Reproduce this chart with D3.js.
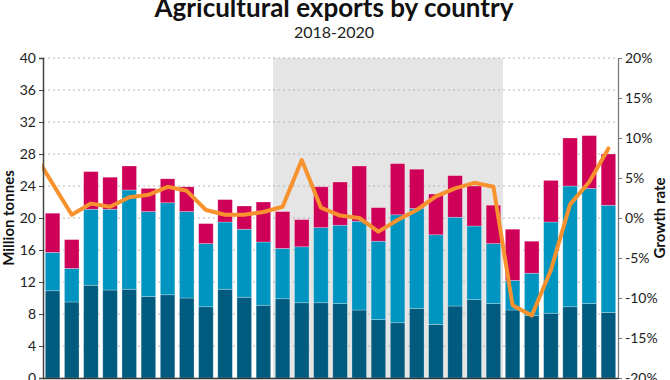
<!DOCTYPE html>
<html>
<head>
<meta charset="utf-8">
<script src="https://cdn.jsdelivr.net/npm/d3@7"></script>
<style>
  body { margin: 0; background: #fff; }
  svg { display: block; font-family: Lato, "Open Sans", sans-serif; }
</style>
</head>
<body>
<div id="plot"></div>
<script>
// Data (million tonnes per country, growth rate in %)
const months = [
  "Jan 2018","Feb 2018","Mar 2018","Apr 2018","May 2018","Jun 2018","Jul 2018","Aug 2018","Sep 2018","Oct 2018","Nov 2018","Dec 2018",
  "Jan 2019","Feb 2019","Mar 2019","Apr 2019","May 2019","Jun 2019","Jul 2019","Aug 2019","Sep 2019","Oct 2019","Nov 2019","Dec 2019",
  "Jan 2020","Feb 2020","Mar 2020","Apr 2020","May 2020","Jun 2020"
];
const countryA = [10.9,9.5,11.6,11.0,11.1,10.2,10.4,10.0,8.9,11.1,10.1,9.1,9.9,9.4,9.4,9.3,8.5,7.3,6.9,8.7,6.7,9.0,9.8,9.3,8.5,7.8,8.1,8.9,9.3,8.2];
const countryB = [4.8,4.2,9.5,10.1,12.4,10.6,11.5,10.8,7.9,8.4,8.5,7.9,6.3,7.0,9.4,9.8,11.1,9.8,13.5,12.5,11.2,11.1,9.2,7.5,3.7,5.3,11.4,15.1,14.4,13.4];
const countryC = [4.9,3.6,4.7,4.0,3.0,2.9,3.0,3.1,2.5,2.8,2.9,5.0,4.6,3.4,5.1,5.4,6.9,4.2,6.4,4.9,5.1,5.2,5.0,4.8,6.4,4.0,5.2,6.0,6.6,6.4];
// growth line starts from Dec 2017 (clipped at the axis)
const growthMonths = ["Dec 2017"].concat(months);
const growth = [8.2,4.3,0.4,1.8,1.4,2.6,2.9,3.9,3.4,1.0,0.4,0.4,0.75,1.4,7.25,1.3,0.3,0.0,-1.7,-0.25,1.0,2.7,3.7,4.4,3.9,-10.9,-12.2,-6.5,1.7,4.5,8.7];
const shadedYear = months.slice(12, 24);
const leftTicks = [0,4,8,12,16,20,24,28,32,36,40];
const rightTicks = [-20,-15,-10,-5,0,5,10,15,20];

const seriesKeys = ["a", "b", "c"];
const colors = { a: "#005b7f", b: "#0094c0", c: "#cf0057" };

// Dimensions and margins
const w = 670;
const h = 380;
const margin = { top: 58, right: 52, bottom: 2, left: 43 };
const innerWidth = w - margin.left - margin.right;
const innerHeight = h - margin.top - margin.bottom;

const svg = d3.select("div#plot")
  .append("svg")
  .attr("width", w)
  .attr("height", h);

const g = svg.append("g")
  .attr("transform", `translate(${margin.left}, ${margin.top})`);

// Scales
const xScale = d3.scaleBand()
  .domain(months)
  .range([0, innerWidth])
  .paddingInner(0.24)
  .paddingOuter(0.12);
const yScale = d3.scaleLinear().domain([0, 40]).range([innerHeight, 0]);
const yRight = d3.scaleLinear().domain([-20, 20]).range([innerHeight, 0]);

const step = xScale.step();
const half = xScale.bandwidth() / 2;
const xLine = d3.scalePoint()
  .domain(growthMonths)
  .range([xScale(months[0]) + half - step, xScale(months[months.length - 1]) + half]);

// Shaded 2019 band
const bandStart = xScale(shadedYear[0]) - xScale.paddingInner() * step / 2;
const bandEnd = xScale(shadedYear[shadedYear.length - 1]) + xScale.bandwidth() + xScale.paddingInner() * step / 2;
g.append("rect")
  .attr("x", bandStart)
  .attr("y", 0)
  .attr("width", bandEnd - bandStart)
  .attr("height", innerHeight)
  .attr("fill", "#e5e5e5");

// Gridlines
g.append("g")
  .selectAll("line")
  .data(leftTicks.filter(t => t > 0))
  .enter().append("line")
  .attr("x1", 0)
  .attr("x2", innerWidth)
  .attr("y1", d => yScale(d))
  .attr("y2", d => yScale(d))
  .attr("stroke", "#b5b5b5")
  .attr("stroke-width", 1)
  .attr("stroke-dasharray", "2,3");

// Stacked bars
const table = months.map((m, i) => ({ month: m, a: countryA[i], b: countryB[i], c: countryC[i] }));
const stacked = d3.stack().keys(seriesKeys)(table);

g.append("g")
  .selectAll("g")
  .data(stacked)
  .enter().append("g")
  .attr("fill", d => colors[d.key])
  .selectAll("rect")
  .data(d => d)
  .enter().append("rect")
  .attr("x", d => xScale(d.data.month))
  .attr("y", d => yScale(d[1]))
  .attr("width", xScale.bandwidth())
  .attr("height", d => yScale(d[0]) - yScale(d[1]))
  .attr("stroke", "#ffffff")
  .attr("stroke-opacity", 0.45)
  .attr("stroke-width", 0.6);

// Growth rate line
svg.append("defs").append("clipPath")
  .attr("id", "plot-clip")
  .append("rect")
  .attr("x", -1)
  .attr("y", -5)
  .attr("width", innerWidth + 1)
  .attr("height", innerHeight + 10);

const line = d3.line()
  .x((d, i) => xLine(growthMonths[i]))
  .y(d => yRight(d));

g.append("path")
  .datum(growth)
  .attr("clip-path", "url(#plot-clip)")
  .attr("fill", "none")
  .attr("stroke", "#f7922f")
  .attr("stroke-width", 4)
  .attr("stroke-linejoin", "round")
  .attr("stroke-linecap", "round")
  .attr("d", line);

// Axes
const leftAxis = g.append("g")
  .call(d3.axisLeft(yScale).tickValues(leftTicks).tickSize(4).tickPadding(3));
leftAxis.select(".domain").attr("stroke", "#444").attr("stroke-width", 1.5);
leftAxis.selectAll(".tick line").attr("stroke", "#444");
leftAxis.selectAll("text")
  .attr("fill", "#222")
  .style("font-size", "14px")
  .style("font-family", "Lato, sans-serif");

const rightAxis = g.append("g")
  .attr("transform", `translate(${innerWidth}, 0)`)
  .call(d3.axisRight(yRight).tickValues(rightTicks).tickSize(4).tickPadding(3).tickFormat(d => d + "%"));
rightAxis.select(".domain").attr("stroke", "#777").attr("stroke-width", 1.2);
rightAxis.selectAll(".tick line").attr("stroke", "#777");
rightAxis.selectAll("text")
  .attr("fill", "#222")
  .style("font-size", "14px")
  .style("font-family", "Lato, sans-serif");

const bottomAxis = g.append("g")
  .attr("transform", `translate(0, ${innerHeight})`)
  .call(d3.axisBottom(xScale).tickSize(0).tickFormat(""));
bottomAxis.select(".domain").attr("stroke", "#333").attr("stroke-width", 1.5);

// Titles
svg.append("text")
  .attr("x", 334)
  .attr("y", 17)
  .attr("text-anchor", "middle")
  .attr("fill", "#111")
  .style("font-size", "26px")
  .style("font-weight", "bold")
  .text("Agricultural exports by country");

svg.append("text")
  .attr("x", 334)
  .attr("y", 38)
  .attr("text-anchor", "middle")
  .attr("fill", "#222")
  .style("font-size", "16px")
  .text("2018-2020");

svg.append("text")
  .attr("transform", `translate(14, ${margin.top + innerHeight / 2}) rotate(-90)`)
  .attr("text-anchor", "middle")
  .attr("fill", "#111")
  .style("font-size", "15px")
  .style("font-weight", "bold")
  .text("Million tonnes");

svg.append("text")
  .attr("transform", `translate(665, ${margin.top + innerHeight / 2}) rotate(-90)`)
  .attr("text-anchor", "middle")
  .attr("fill", "#111")
  .style("font-size", "15px")
  .style("font-weight", "bold")
  .text("Growth rate");
</script>
</body>
</html>
